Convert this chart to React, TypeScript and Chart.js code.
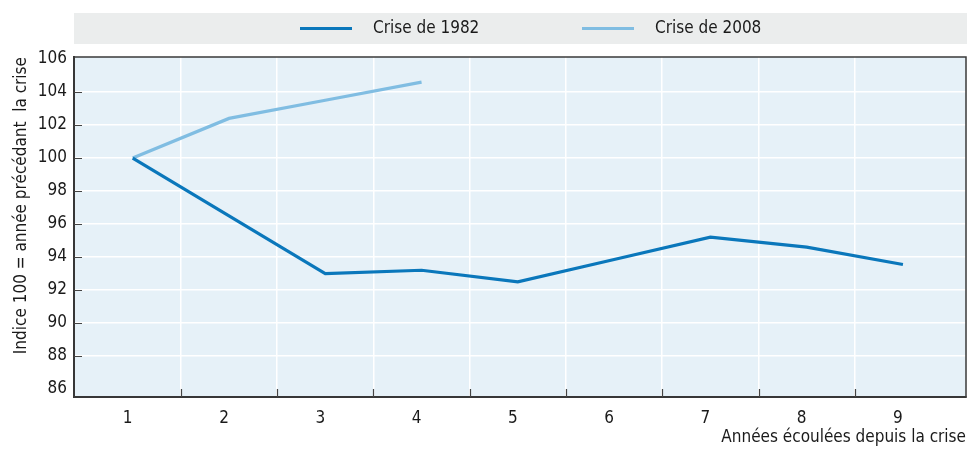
import { useEffect, useRef } from 'react';
import { Chart, registerables } from 'chart.js';

Chart.register(...registerables);

// ---- Data ----
const years = [1, 2, 3, 4, 5, 6, 7, 8, 9];
const crisis1982 = [100, 96.5, 93.0, 93.2, 92.5, 93.85, 95.2, 94.6, 93.55];
const crisis2008 = [100, 102.4, 103.5, 104.6];
const seriesLabels = ['Crise de 1982', 'Crise de 2008'];
const xTickLabels = ['1', '2', '3', '4', '5', '6', '7', '8', '9'];
const yTickValues = [86, 88, 90, 92, 94, 96, 98, 100, 102, 104, 106];
const yTitle = 'Indice 100 = année précédant  la crise';
const xTitle = 'Années écoulées depuis la crise';

const FONT = "'DejaVu Sans Condensed', 'Liberation Sans Narrow', sans-serif";
const FS = 17;
const TEXT = '#1a1a1a';
const C1982 = '#0a77bb';
const C2008 = '#80bde2';

const plotBg = {
  id: 'plotBg',
  beforeDraw(chart: any) {
    const { ctx, chartArea: a } = chart;
    ctx.save();
    ctx.fillStyle = '#e6f1f8';
    ctx.fillRect(a.left, a.top, a.right - a.left, a.bottom - a.top);
    ctx.restore();
  },
};

const frame = {
  id: 'frame',
  afterDraw(chart: any) {
    const { ctx, chartArea: a, scales } = chart;
    ctx.save();
    ctx.strokeStyle = '#3a3a3a';
    ctx.lineWidth = 1.5;
    ctx.strokeRect(a.left, a.top, a.right - a.left, a.bottom - a.top);
    // inward tick marks
    ctx.strokeStyle = '#444';
    ctx.lineWidth = 1.2;
    ctx.beginPath();
    scales.y.ticks.forEach((t: any) => {
      if (t.value <= 86 || t.value >= 106) return;
      const y = Math.round(scales.y.getPixelForValue(t.value)) + 0.5;
      ctx.moveTo(a.left, y);
      ctx.lineTo(a.left + 8, y);
    });
    scales.x.ticks.forEach((t: any) => {
      if (Number.isInteger(t.value)) return;
      const x = Math.round(scales.x.getPixelForValue(t.value)) + 0.5;
      ctx.moveTo(x, a.bottom);
      ctx.lineTo(x, a.bottom - 8);
    });
    ctx.stroke();
    ctx.restore();
  },
};

const legendBox = {
  id: 'legendBox',
  afterDraw(chart: any) {
    const { ctx, chartArea: a } = chart;
    const starts = [300, 582];
    ctx.save();
    ctx.fillStyle = '#ebeded';
    ctx.fillRect(a.left, 13, chart.width - a.left - 1, 31);
    chart.data.datasets.forEach((ds: any, i: number) => {
      const x = starts[i];
      const y = 28.5;
      ctx.strokeStyle = ds.borderColor;
      ctx.lineWidth = 3;
      ctx.beginPath();
      ctx.moveTo(x, y);
      ctx.lineTo(x + 52, y);
      ctx.stroke();
      ctx.fillStyle = TEXT;
      ctx.font = `${FS}px ${FONT}`;
      ctx.textBaseline = 'middle';
      ctx.textAlign = 'left';
      ctx.fillText(ds.label, x + 73, y);
    });
    ctx.restore();
  },
};

export default function App() {
  const ref = useRef<HTMLCanvasElement | null>(null);

  useEffect(() => {
    if (!ref.current) return;
    const chart = new Chart(ref.current, {
      type: 'line',
      data: {
        datasets: [
          {
            label: seriesLabels[0],
            data: crisis1982.map((v, i) => ({ x: years[i], y: v })),
            borderColor: C1982,
            backgroundColor: C1982,
            borderWidth: 3.2,
            pointRadius: 0,
            tension: 0,
          },
          {
            label: seriesLabels[1],
            data: crisis2008.map((v, i) => ({ x: years[i], y: v })),
            borderColor: C2008,
            backgroundColor: C2008,
            borderWidth: 3.2,
            pointRadius: 0,
            tension: 0,
          },
        ],
      },
      options: {
        animation: false,
        responsive: false,
        maintainAspectRatio: false,
        layout: { padding: { top: 57, right: 2, left: 0, bottom: 0 } },
        plugins: {
          legend: { display: false },
          tooltip: { enabled: false },
        },
        scales: {
          x: {
            type: 'linear',
            min: 0.39,
            max: 9.655,
            afterBuildTicks: (scale: any) => {
              const t: any[] = [];
              years.forEach((v) => {
                t.push({ value: v });
                if (v < years[years.length - 1]) t.push({ value: v + 0.5 });
              });
              scale.ticks = t;
            },
            afterFit: (scale: any) => {
              scale.height = 52;
            },
            grid: {
              color: (c: any) => (c.tick && !Number.isInteger(c.tick.value) ? '#ffffff' : 'rgba(0,0,0,0)'),
              lineWidth: 1.5,
              drawTicks: false,
            },
            border: { display: true, color: '#333', width: 2 },
            ticks: {
              autoSkip: false,
              maxRotation: 0,
              padding: 11,
              labelOffset: -5,
              color: TEXT,
              font: { family: FONT, size: FS, lineHeight: 1.2 },
              callback: (v: any) => (Number.isInteger(v) ? xTickLabels[v - 1] : ''),
            },
            title: {
              display: true,
              text: xTitle,
              align: 'end',
              color: TEXT,
              font: { family: FONT, size: FS, lineHeight: 1.2 },
              padding: { top: 0, bottom: 1 },
            },
          },
          y: {
            type: 'linear',
            min: 85.52,
            max: 106.12,
            afterBuildTicks: (scale: any) => {
              scale.ticks = yTickValues.map((v) => ({ value: v }));
            },
            afterFit: (scale: any) => {
              scale.width = 74;
            },
            grid: {
              color: (c: any) =>
                c.tick && c.tick.value > 86 && c.tick.value < 106 ? '#ffffff' : 'rgba(0,0,0,0)',
              lineWidth: 1.5,
              drawTicks: false,
            },
            border: { display: true, color: '#333', width: 2 },
            ticks: {
              padding: 7,
              color: TEXT,
              font: { family: FONT, size: FS, lineHeight: 1.2 },
              callback: (v: any) => String(v),
            },
            title: {
              display: true,
              text: yTitle,
              align: 'end',
              color: TEXT,
              font: { family: FONT, size: FS, lineHeight: 1.2 },
              padding: { top: 11, bottom: 0 },
            },
          },
        },
      },
      plugins: [plotBg, frame, legendBox],
    });
    return () => chart.destroy();
  }, []);

  return (
    <div style={{ position: 'absolute', left: 0, top: 0, width: 968, height: 449 }}>
      <canvas ref={ref} width={968} height={449} style={{ display: 'block' }} />
    </div>
  );
}
